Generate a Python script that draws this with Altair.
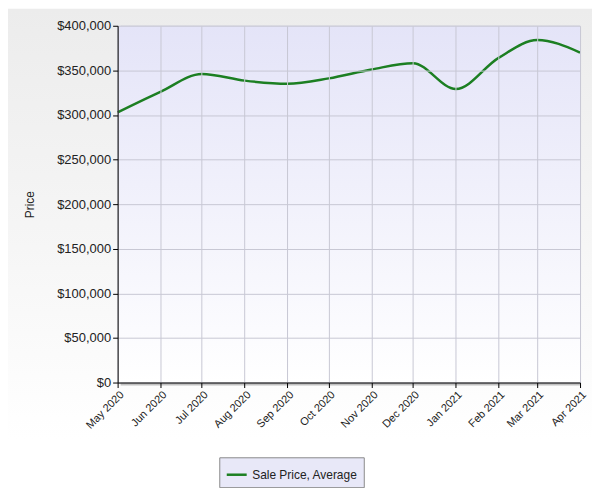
import altair as alt
import pandas as pd

months = ["2020-05-01", "2020-06-01", "2020-07-01", "2020-08-01", "2020-09-01",
          "2020-10-01", "2020-11-01", "2020-12-01", "2021-01-01", "2021-02-01",
          "2021-03-01", "2021-04-01"]
prices = [303000, 326000, 346000, 338500, 335000, 341000, 351000, 358000,
          329000, 364000, 384000, 370000]
series_name = "Sale Price, Average"
y_ticks = [0, 50000, 100000, 150000, 200000, 250000, 300000, 350000, 400000]

df = pd.DataFrame({"month": months, "price": prices, "series": series_name})
bg = pd.DataFrame({"x": [months[0]], "x2": [months[-1]], "y": [0], "y2": [400000]})

x_scale = alt.Scale(domain=[pd.Timestamp(months[0]).isoformat(), pd.Timestamp(months[-1]).isoformat()], nice=False)
y_scale = alt.Scale(domain=[0, 400000], nice=False)

page_bg = alt.Chart(bg).mark_rect(
    color=alt.Gradient(
        gradient="linear", x1=0, y1=0, x2=0, y2=1,
        stops=[alt.GradientStop(color="#ececec", offset=0),
               alt.GradientStop(color="#f6f6f6", offset=0.5),
               alt.GradientStop(color="#ffffff", offset=0.9)],
    )
).encode(x=alt.value(-110), x2=alt.value(490), y=alt.value(-17), y2=alt.value(463))

shadow = alt.Chart(bg).mark_rect(color="#9a9a9a", opacity=0.6, xOffset=3, yOffset=3).encode(
    x=alt.X("x:T", scale=x_scale), x2="x2:T",
    y=alt.Y("y:Q", scale=y_scale), y2="y2:Q",
)

panel = alt.Chart(bg).mark_rect(
    color=alt.Gradient(
        gradient="linear", x1=0, y1=0, x2=0, y2=1,
        stops=[alt.GradientStop(color="#e4e4f8", offset=0),
               alt.GradientStop(color="#ffffff", offset=1)],
    )
).encode(
    x=alt.X("x:T", scale=x_scale), x2="x2:T",
    y=alt.Y("y:Q", scale=y_scale), y2="y2:Q",
)

line = alt.Chart(df).mark_line(interpolate="monotone", strokeWidth=2.5).encode(
    x=alt.X("month:T", scale=x_scale, title=None,
            axis=alt.Axis(format="%b %Y", values=[pd.Timestamp(m).isoformat() for m in months],
                          labelAngle=-45, labelAlign="right", labelBaseline="top",
                          labelOverlap=False, zindex=1,
                          domainColor="#000000", tickColor="#000000", tickSize=5,
                          gridColor="#c8c8d4", labelColor="#222222", labelFontSize=11,
                          labelFont="Liberation Sans", labelPadding=1)),
    y=alt.Y("price:Q", scale=y_scale, title="Price",
            axis=alt.Axis(format="$,.0f", values=y_ticks, labelOverlap=False, zindex=1,
                          domainColor="#000000", tickColor="#000000", tickSize=5,
                          gridColor="#c8c8d4", labelColor="#222222", labelFontSize=13,
                          labelFont="Liberation Sans", labelPadding=2,
                          titleFont="Liberation Sans", titleFontSize=12, titleFontWeight="normal",
                          titleColor="#222222", titlePadding=20)),
    color=alt.Color("series:N", scale=alt.Scale(domain=[series_name], range=["#1c7f22"]),
                    legend=alt.Legend(title=None, orient="none", legendX=102, legendY=433,
                                      symbolType="stroke", symbolSize=400, symbolStrokeWidth=2.5,
                                      fillColor="#e8e8f8", strokeColor="#8a8a8a",
                                      padding=6, labelFont="Liberation Sans", labelFontSize=12,
                                      labelColor="#222222", direction="horizontal")),
)

chart = alt.layer(page_bg, shadow, panel, line).properties(
    width=464, height=358,
    autosize=alt.AutoSizeParams(type="none"),
    padding={"left": 110, "top": 17, "right": 12, "bottom": 105},
    background="#ffffff",
).configure_view(stroke=None)

chart.save("out.html", embed_options={"renderer": "svg", "actions": False})
